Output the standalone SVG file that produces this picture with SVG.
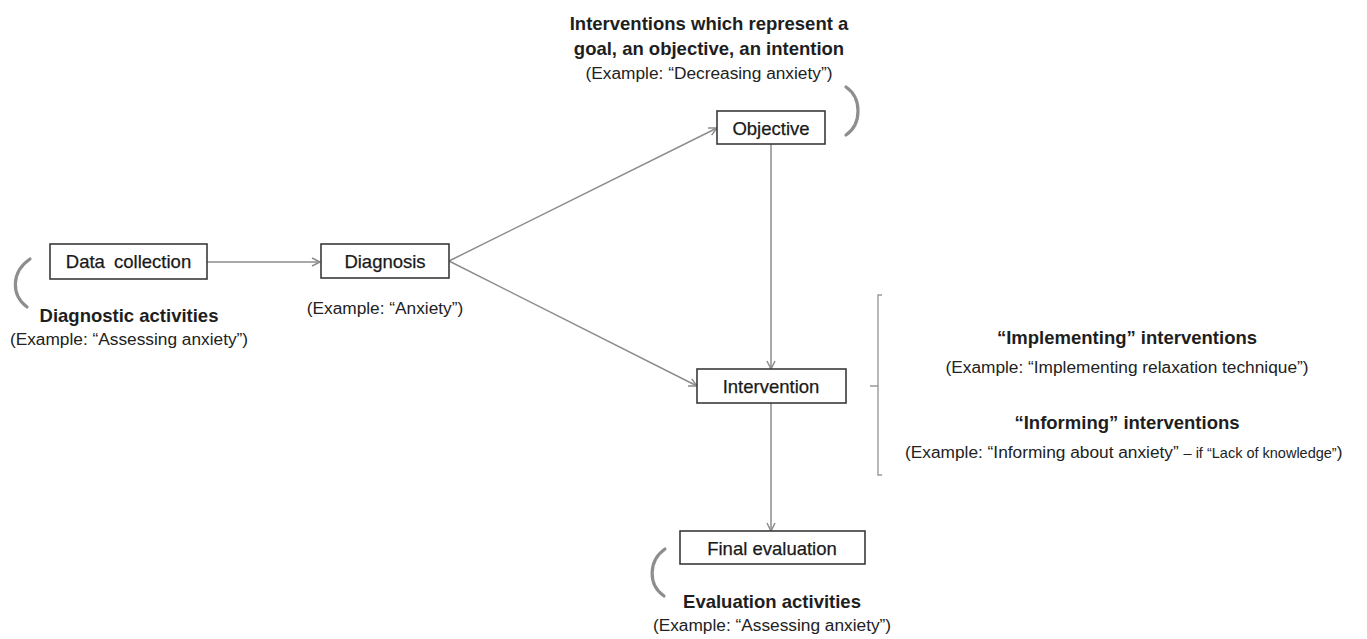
<svg xmlns="http://www.w3.org/2000/svg" width="1367" height="639" viewBox="0 0 1367 639">
  <style>
    .box { fill: #ffffff; stroke: #3a3a3a; stroke-width: 1.6; }
    .lbl { font-family: "Liberation Sans", Arial, sans-serif; font-size: 18.5px; fill: #1a1a1a; text-anchor: middle; stroke: #1a1a1a; stroke-width: 0.25; }
    .bold { font-family: "Liberation Sans", Arial, sans-serif; font-size: 18.5px; font-weight: bold; fill: #1e1e1e; text-anchor: middle; }
    .note { font-family: "Liberation Sans", Arial, sans-serif; font-size: 17.3px; fill: #222222; text-anchor: middle; }
    .start { text-anchor: start; }
    .conn { stroke: #8c8c8c; stroke-width: 1.5; fill: none; }
    .loop { stroke: #8e8e8e; stroke-width: 3.2; fill: none; stroke-linecap: round; }
    .bracket { stroke: #9a9a9a; stroke-width: 1.4; fill: none; }
  </style>
  <defs>
    <marker id="open-arrow" markerUnits="userSpaceOnUse" markerWidth="12" markerHeight="12" refX="9" refY="5" orient="auto">
      <path d="M1,1 L9,5 L1,9" fill="none" stroke="#8c8c8c" stroke-width="1.5"/>
    </marker>
  </defs>

  <rect width="1367" height="639" fill="#ffffff"/>

  <!-- connectors -->
  <g id="connectors">
    <path class="conn" d="M207,262 L320,262" marker-end="url(#open-arrow)"/>
    <path class="conn" d="M449,261 L717,128" marker-end="url(#open-arrow)"/>
    <path class="conn" d="M449,261 L697,386" marker-end="url(#open-arrow)"/>
    <path class="conn" d="M771,144 L771,369" marker-end="url(#open-arrow)"/>
    <path class="conn" d="M771,403 L771,531" marker-end="url(#open-arrow)"/>
  </g>

  <!-- looping activity arcs -->
  <g id="loops">
    <path class="loop" d="M30,259 C11,272 11,295 27,307"/>
    <path class="loop" d="M846,87 C862,98 862,124 846,135"/>
    <path class="loop" d="M665,549 C648,561 648,585 664,596"/>
  </g>

  <g id="data-collection">
    <rect class="box" x="50" y="244" width="157" height="35"/>
    <text class="lbl" x="128.5" y="268" word-spacing="4">Data collection</text>
    <text class="bold" x="129" y="322">Diagnostic activities</text>
    <text class="note" x="129" y="345">(Example: “Assessing anxiety”)</text>
  </g>

  <g id="diagnosis">
    <rect class="box" x="321" y="244" width="128" height="34"/>
    <text class="lbl" x="385" y="268">Diagnosis</text>
    <text class="note" x="385" y="314">(Example: “Anxiety”)</text>
  </g>

  <g id="objective">
    <rect class="box" x="717" y="111" width="108" height="33"/>
    <text class="lbl" x="771" y="135">Objective</text>
    <text class="bold" x="709" y="30">Interventions which represent a</text>
    <text class="bold" x="709" y="55">goal, an objective, an intention</text>
    <text class="note" x="709" y="79">(Example: “Decreasing anxiety”)</text>
  </g>

  <g id="intervention">
    <rect class="box" x="697" y="369" width="149" height="34"/>
    <text class="lbl" x="771" y="393">Intervention</text>
  </g>

  <g id="intervention-types">
    <path class="bracket" d="M882,295 L878,295 L878,475 L882,475 M870,386 L878,386"/>
    <text class="bold" x="1127" y="344">“Implementing” interventions</text>
    <text class="note" x="1127" y="373">(Example: “Implementing relaxation technique”)</text>
    <text class="bold" x="1127" y="429">“Informing” interventions</text>
    <text class="note start" x="905" y="458">(Example: “Informing about anxiety” <tspan font-size="14.5px">– if “Lack of knowledge”</tspan>)</text>
  </g>

  <g id="final-evaluation">
    <rect class="box" x="680" y="531" width="185" height="33"/>
    <text class="lbl" x="772" y="555">Final evaluation</text>
    <text class="bold" x="772" y="608">Evaluation activities</text>
    <text class="note" x="772" y="631">(Example: “Assessing anxiety”)</text>
  </g>
</svg>
